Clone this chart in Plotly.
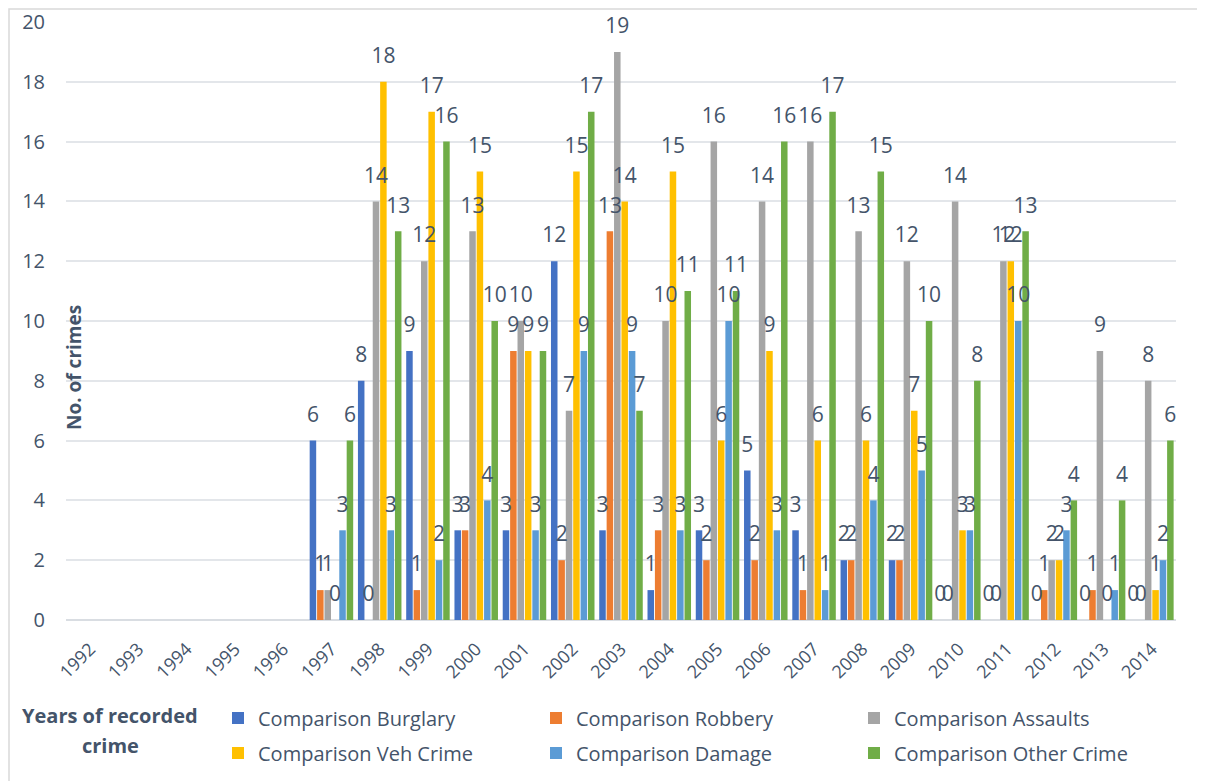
import plotly.graph_objects as go

years = [str(y) for y in range(1992, 2015)]
burglary = [None]*5 + [6, 8, 9, 3, 3, 12, 3, 1, 3, 5, 3, 2, 2, 0, 0, 0, 0, 0]
robbery = [None]*5 + [1, 0, 1, 3, 9, 2, 13, 3, 2, 2, 1, 2, 2, 0, 0, 1, 1, 0]
assaults = [None]*5 + [1, 14, 12, 13, 10, 7, 19, 10, 16, 14, 16, 13, 12, 14, 12, 2, 9, 8]
veh_crime = [None]*5 + [0, 18, 17, 15, 9, 15, 14, 15, 6, 9, 6, 6, 7, 3, 12, 2, 0, 1]
damage = [None]*5 + [3, 3, 2, 4, 3, 9, 9, 3, 10, 3, 1, 4, 5, 3, 10, 3, 1, 2]
other_crime = [None]*5 + [6, 13, 16, 10, 9, 17, 7, 11, 11, 16, 17, 15, 10, 8, 13, 4, 4, 6]

series = [
    ("Comparison Burglary", burglary, "#4472C4", "legend"),
    ("Comparison Robbery", robbery, "#ED7D31", "legend"),
    ("Comparison Assaults", assaults, "#A5A5A5", "legend"),
    ("Comparison Veh Crime", veh_crime, "#FFC000", "legend2"),
    ("Comparison Damage", damage, "#5B9BD5", "legend2"),
    ("Comparison Other Crime", other_crime, "#70AD47", "legend2"),
]

TXT = "#44546A"
FONT = "Open Sans"
GAP = 0.08

fig = go.Figure()
for name, vals, col, lg in series:
    fig.add_trace(go.Bar(
        x=years, y=vals, name=name, legend=lg,
        marker=dict(color=col, line=dict(width=0)),
    ))
# data labels, grouped to sit above each bar
for name, vals, col, lg in series:
    fig.add_trace(go.Scatter(
        x=years, y=vals, mode="markers+text", showlegend=False, hoverinfo="skip",
        text=[("" if v is None else str(v)) for v in vals],
        textposition="top center", cliponaxis=False,
        marker=dict(size=20, color="rgba(0,0,0,0)"),
        textfont=dict(family=FONT, size=21, color=TXT),
    ))

# the page body adds an 8px margin; figure is sized/positioned to compensate
OFF = 8
W, H = 1205 - OFF, 781 - OFF
L, R, T, B = 66 - OFF, 29, 22 - OFF, 161
pw, ph = W - L - R, H - T - B

def px_x(x):  # x in page pixels -> paper coords
    return (x - OFF - L) / pw

def px_y(y):  # y in page pixels -> paper coords
    return (H - B - (y - OFF)) / ph

leg_common = dict(
    orientation="h", xanchor="left", yanchor="middle",
    xref="container", yref="container",
    font=dict(size=20, color=TXT), entrywidth=273, entrywidthmode="pixels",
    traceorder="normal", bgcolor="rgba(0,0,0,0)",
)

fig.update_layout(
    width=W, height=H,
    margin=dict(l=L, r=R, t=T, b=B, autoexpand=False),
    paper_bgcolor="white", plot_bgcolor="white",
    barmode="group", bargap=GAP, bargroupgap=0.12,
    scattermode="group", scattergap=GAP,
    font=dict(family=FONT, color=TXT, size=18),
    xaxis=dict(
        type="category", tickangle=-45, showgrid=False, automargin=False,
        tickfont=dict(size=18, color=TXT), showline=False, ticks="",
        ticklabelstandoff=14,
    ),
    yaxis=dict(
        range=[0, 20], dtick=2, showgrid=True, gridcolor="#E3E6EA", gridwidth=1.5,
        zeroline=True, zerolinecolor="#D9DDE2", zerolinewidth=1.5, automargin=False,
        tickfont=dict(size=20, color=TXT), ticklabelstandoff=20,
    ),
    legend=dict(x=(218 - OFF) / W, y=1 - (718 - OFF) / H, **leg_common),
    legend2=dict(x=(218 - OFF) / W, y=1 - (753 - OFF) / H, **leg_common),
    showlegend=True,
)

fig.add_annotation(
    text="<b>No. of crimes</b>", textangle=-90, showarrow=False,
    xref="paper", yref="paper", x=px_x(74), y=px_y(368),
    xanchor="center", yanchor="middle", font=dict(size=19, color=TXT),
)
fig.add_annotation(
    text="<b>Years of recorded</b>", showarrow=False,
    xref="paper", yref="paper", x=px_x(110), y=px_y(716),
    xanchor="center", yanchor="middle", font=dict(size=20, color=TXT),
)
fig.add_annotation(
    text="<b>crime</b>", showarrow=False,
    xref="paper", yref="paper", x=px_x(110), y=px_y(745),
    xanchor="center", yanchor="middle", font=dict(size=20, color=TXT),
)
fig.add_shape(
    type="rect", xref="paper", yref="paper",
    x0=px_x(9), x1=px_x(1215), y0=px_y(790), y1=px_y(9),
    line=dict(color="#D9D9D9", width=1.5), fillcolor="rgba(0,0,0,0)", layer="below",
)

fig.write_html("out.html")
